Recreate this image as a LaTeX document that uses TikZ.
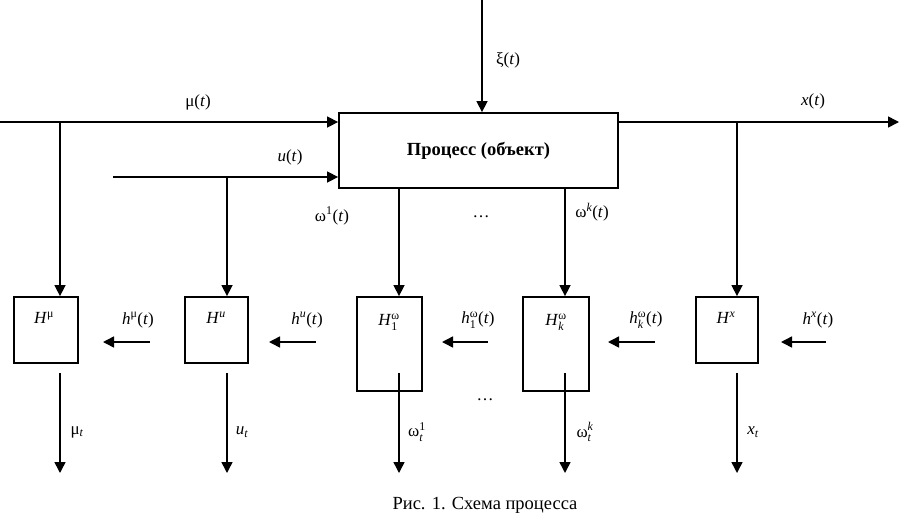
\documentclass[tikz,border=0pt]{standalone}
\usepackage{amsmath}
\usepackage{fontspec}
\setmainfont{Liberation Serif}
\usetikzlibrary{arrows.meta}
\begin{document}
\begin{tikzpicture}[x=1pt,y=-1pt,
  box/.style={draw,line width=1.8pt,inner sep=0pt},
  arr/.style={line width=1.5pt,-{Triangle[length=11pt,width=11pt]}},
  lbl/.style={inner sep=0pt,font=\fontsize{17}{20}\selectfont}]
\useasboundingbox (0,0) rectangle (901,517);
% process
\node[box,minimum width=279pt,minimum height=75pt,font=\bfseries\fontsize{18.5}{22}\selectfont] (proc) at (478.5,150.5) {Процесс (объект)};
% measuring blocks
\node[box,minimum width=64pt,minimum height=66pt] (Hmu) at (46,330) {};
\node[box,minimum width=63pt,minimum height=66pt] (Hu) at (216.5,330) {};
\node[box,minimum width=65pt,minimum height=94pt] (H1) at (389.5,344) {};
\node[box,minimum width=66pt,minimum height=94pt] (Hk) at (556,344) {};
\node[box,minimum width=62pt,minimum height=66pt] (Hx) at (727,330) {};
\node[lbl] (tHmu) at (44,318) {\textit{H}$^{\text{μ}}$};
\node[lbl] (tHu) at (216,318) {\textit{H}$^{\text{\itshape u}}$};
\node[lbl] (tH1) at (389,322) {\textit{H}$^{\text{ω}}_{\text{1}}$};
\node[lbl] (tHk) at (556,322) {\textit{H}$^{\text{ω}}_{\text{\itshape k}}$};
\node[lbl] (tHx) at (726,318) {\textit{H}$^{\text{\itshape x}}$};
% coordinates
\coordinate (mu0) at (0,122);
\coordinate (u0) at (113,177);
\coordinate (xi0) at (482,0);
\coordinate (x1) at (899,122);
\coordinate (bmu) at (60,122);
\coordinate (bu) at (227,177);
\coordinate (bx) at (737,122);
\coordinate (w1) at (399,188);
\coordinate (wk) at (565,188);
% inputs to process
\draw[arr] (mu0) -- (proc.west |- mu0);
\draw[arr] (u0) -- (proc.west |- u0);
\draw[arr] (xi0) -- (xi0 |- proc.north);
\draw[arr] (proc.east |- x1) -- (x1);
% branches
\draw[arr] (bmu) -- (bmu |- Hmu.north);
\draw[arr] (bu) -- (bu |- Hu.north);
\draw[arr] (bx) -- (bx |- Hx.north);
\draw[arr] (w1 |- proc.south) -- (w1 |- H1.north);
\draw[arr] (wk |- proc.south) -- (wk |- Hk.north);
% h inputs
\coordinate (hmuS) at (150,342); \coordinate (hmuE) at (103,342);
\coordinate (huS) at (316,342); \coordinate (huE) at (269,342);
\coordinate (h1S) at (488,342); \coordinate (h1E) at (442,342);
\coordinate (hkS) at (655,342); \coordinate (hkE) at (608,342);
\coordinate (hxS) at (826,342); \coordinate (hxE) at (781,342);
\draw[arr] (hmuS) -- (hmuE);
\draw[arr] (huS) -- (huE);
\draw[arr] (h1S) -- (h1E);
\draw[arr] (hkS) -- (hkE);
\draw[arr] (hxS) -- (hxE);
% outputs
\coordinate (omuS) at (60,373); \coordinate (omuE) at (60,473);
\coordinate (ouS) at (227,373); \coordinate (ouE) at (227,473);
\coordinate (o1S) at (399,373); \coordinate (o1E) at (399,473);
\coordinate (okS) at (565,373); \coordinate (okE) at (565,473);
\coordinate (oxS) at (737,373); \coordinate (oxE) at (737,473);
\draw[arr] (omuS) -- (omuE);
\draw[arr] (ouS) -- (ouE);
\draw[arr] (o1S) -- (o1E);
\draw[arr] (okS) -- (okE);
\draw[arr] (oxS) -- (oxE);
% labels
\node[lbl] (lmu) at (198,102) {μ(\textit{t})};
\node[lbl] (lu) at (290,157) {\textit{u}(\textit{t})};
\node[lbl] (lxi) at (508,60) {ξ(\textit{t})};
\node[lbl] (lx) at (813,101) {\textit{x}(\textit{t})};
\node[lbl] (lw1) at (332,216) {ω$^{\text{1}}$(\textit{t})};
\node[lbl] (ldots1) at (481,217) {…};
\node[lbl] (lwk) at (592,212) {ω$^{\text{\itshape k}}$(\textit{t})};
\node[lbl] (lhmu) at (138,320) {\textit{h}$^{\text{μ}}$(\textit{t})};
\node[lbl] (lhu) at (307,320) {\textit{h}$^{\text{\itshape u}}$(\textit{t})};
\node[lbl] (lh1) at (478,320) {\textit{h}$^{\text{ω}}_{\text{1}}$(\textit{t})};
\node[lbl] (lhk) at (646,320) {\textit{h}$^{\text{ω}}_{\text{\itshape k}}$(\textit{t})};
\node[lbl] (lhx) at (818,320) {\textit{h}$^{\text{\itshape x}}$(\textit{t})};
\node[lbl] (omu) at (77,432) {μ$_{\text{\itshape t}}$};
\node[lbl] (ou) at (242,432) {\textit{u}$_{\text{\itshape t}}$};
\node[lbl] (o1) at (417,432) {ω$^{\text{1}}_{\text{\itshape t}}$};
\node[lbl] (ok) at (585,432) {ω$^{\text{\itshape k}}_{\text{\itshape t}}$};
\node[lbl] (ox) at (753,432) {\textit{x}$_{\text{\itshape t}}$};
\node[lbl] (ldots2) at (485,400) {…};
\node[lbl,font=\fontsize{18.5}{22}\selectfont] (cap) at (485,505) {Рис. 1. Схема процесса};
\end{tikzpicture}
\end{document}
